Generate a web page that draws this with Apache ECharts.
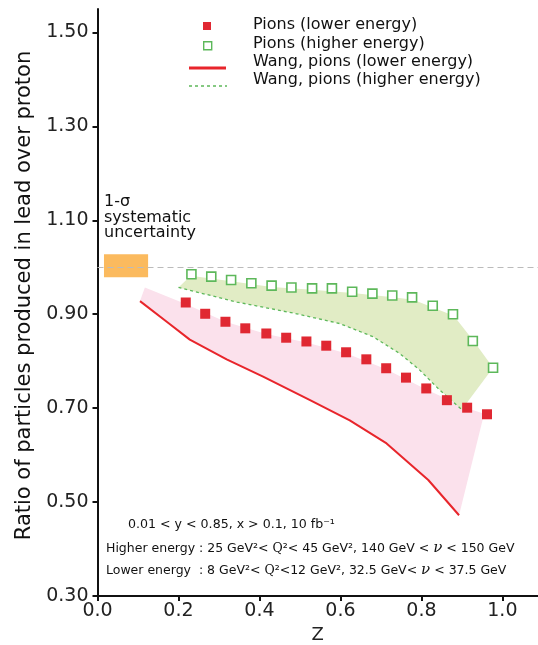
<!DOCTYPE html>
<html>
<head>
<meta charset="utf-8">
<script src="https://cdn.jsdelivr.net/npm/echarts@6/dist/echarts.min.js"></script>
<style>
html,body{margin:0;padding:0;background:#fff;}
#chart{width:538px;height:645px;}
</style>
</head>
<body>
<div id="chart"></div>
<script>
// pions, lower energy (filled red squares)
var zLow = [0.218,0.266,0.316,0.365,0.417,0.466,0.516,0.565,0.614,0.664,0.713,0.762,0.812,0.863,0.913,0.962];
var pionLow = [0.925,0.901,0.884,0.870,0.859,0.850,0.842,0.833,0.819,0.804,0.785,0.765,0.742,0.717,0.701,0.687];
// pions, higher energy (open green squares)
var zHigh = [0.232,0.281,0.330,0.380,0.430,0.479,0.530,0.579,0.629,0.679,0.728,0.777,0.828,0.878,0.927,0.977];
var pionHigh = [0.985,0.980,0.973,0.966,0.961,0.957,0.955,0.955,0.948,0.944,0.940,0.936,0.918,0.900,0.843,0.786];
// Wang curves
var wangLowZ = [0.105,0.171,0.228,0.319,0.409,0.525,0.623,0.714,0.817,0.893];
var wangLowR = [0.928,0.884,0.846,0.804,0.767,0.717,0.674,0.625,0.547,0.472];
var wangHighZ = [0.200,0.344,0.492,0.599,0.681,0.747,0.796,0.846,0.900];
var wangHighR = [0.957,0.926,0.901,0.880,0.852,0.816,0.781,0.738,0.697];
// upper edges of the shaded bands
var bandLowZ = [0.117,0.218,0.316,0.417,0.516,0.614,0.713,0.812,0.913,0.955];
var bandLowR = [0.957,0.922,0.884,0.858,0.840,0.817,0.783,0.740,0.700,0.688];
var bandHighZ = [0.200,0.230,0.330,0.430,0.530,0.630,0.730,0.780,0.830,0.880,0.930,0.977];
var bandHighR = [0.957,0.982,0.970,0.958,0.952,0.945,0.936,0.931,0.914,0.897,0.842,0.786];
// 1-sigma systematic box
var sysZ = [0.016,0.125];
var sysR = [0.979,1.028];
var yTicks = [0.30,0.50,0.70,0.90,1.10,1.30,1.50];
var xTicks = [0.0,0.2,0.4,0.6,0.8,1.0];

var FONT = '"DejaVu Sans", "Liberation Sans", sans-serif';
var SERIF = '"DejaVu Serif", "Liberation Serif", serif';

function pairs(xs, ys) {
	var out = [];
	for (var i = 0; i < xs.length; i++) out.push([xs[i], ys[i]]);
	return out;
}
// polygon: upper edge then the Wang curve backwards
function band(uz, ur, lz, lr) {
	return pairs(uz, ur).concat(pairs(lz, lr).reverse());
}
function makeBand(points, color) {
	return {
		type: 'custom',
		coordinateSystem: 'cartesian2d',
		silent: true,
		z: 1,
		data: [0],
		renderItem: function (params, api) {
			var pts = points.map(function (p) { return api.coord(p); });
			return {type: 'polygon', shape: {points: pts}, style: {fill: color}};
		}
	};
}

var myChart = echarts.init(document.getElementById('chart'));
var richKin = {
	q: {fontFamily: SERIF, fontSize: 12.5},
	nu: {fontFamily: SERIF, fontStyle: 'italic', fontSize: 15}
};
var option = {
	backgroundColor: '#fff',
	animation: false,
	grid: {left: 97.5, top: 9, right: 0, bottom: 49, containLabel: false, outerBoundsMode: 'none'},
	xAxis: {
		type: 'value', min: 0, max: 1.088, interval: 0.2,
		name: 'Z', nameLocation: 'middle', nameGap: 30,
		nameTextStyle: {fontFamily: FONT, fontSize: 18, color: '#222'},
		axisLine: {lineStyle: {color: '#111', width: 2}},
		axisTick: {show: true, length: 5, lineStyle: {color: '#111', width: 2}, customValues: xTicks},
		axisLabel: {fontFamily: FONT, fontSize: 19, color: '#222', margin: 6, customValues: xTicks,
			formatter: function (v) { return v.toFixed(1); }},
		splitLine: {show: false}
	},
	yAxis: {
		type: 'value', min: 0.30, max: 1.55, interval: 0.2,
		name: 'Ratio of particles produced in lead over proton', nameLocation: 'middle', nameGap: 61,
		nameTextStyle: {fontFamily: FONT, fontSize: 21, color: '#111', padding: [0, 0, 0, 14]},
		axisLine: {lineStyle: {color: '#111', width: 2}},
		axisTick: {show: true, length: 5, lineStyle: {color: '#111', width: 2}, customValues: yTicks},
		axisLabel: {fontFamily: FONT, fontSize: 19, color: '#222', margin: 9, customValues: yTicks,
			formatter: function (v) { return v.toFixed(2); }},
		splitLine: {show: false}
	},
	series: [
		makeBand(band(bandLowZ, bandLowR, wangLowZ, wangLowR), '#fbe1ec'),
		makeBand(band(bandHighZ, bandHighR, wangHighZ, wangHighR), '#e1ecc5'),
		{
			type: 'line', name: 'sys', data: [], silent: true, z: 2,
			markLine: {
				silent: true, symbol: 'none', label: {show: false},
				lineStyle: {color: '#bbb', type: [6, 4], width: 1},
				data: [{yAxis: 1.0}]
			},
			markArea: {
				silent: true,
				itemStyle: {color: '#fbba5e', opacity: 1},
				data: [[{coord: [sysZ[0], sysR[1]]}, {coord: [sysZ[1], sysR[0]]}]]
			}
		},
		{
			type: 'line', name: 'Wang, pions (lower energy)', data: pairs(wangLowZ, wangLowR),
			symbol: 'none', z: 3, lineStyle: {color: '#e8252b', width: 2}
		},
		{
			type: 'line', name: 'Wang, pions (higher energy)', data: pairs(wangHighZ, wangHighR),
			symbol: 'none', z: 3, lineStyle: {color: '#5db85a', width: 1.3, type: [3, 3]}
		},
		{
			type: 'scatter', name: 'Pions (lower energy)', data: pairs(zLow, pionLow),
			symbol: 'rect', symbolSize: 10, z: 4, itemStyle: {color: '#e02832', opacity: 1}
		},
		{
			type: 'scatter', name: 'Pions (higher energy)', data: pairs(zHigh, pionHigh),
			symbol: 'rect', symbolSize: 9, z: 4,
			itemStyle: {color: '#fff', borderColor: '#5db85a', borderWidth: 1.6, opacity: 1}
		}
	],
	graphic: [
		// legend
		{type: 'rect', left: 203, top: 22, shape: {width: 8, height: 8}, style: {fill: '#e02832'}},
		{type: 'rect', left: 203, top: 41, shape: {width: 8, height: 8}, style: {fill: '#fff', stroke: '#5db85a', lineWidth: 1.4}},
		{type: 'line', shape: {x1: 189, y1: 68, x2: 226, y2: 68}, style: {stroke: '#e8252b', lineWidth: 3}},
		{type: 'line', shape: {x1: 189, y1: 86, x2: 227, y2: 86}, style: {stroke: '#5db85a', lineWidth: 1.5, lineDash: [3, 3]}},
		{type: 'text', left: 253, top: 17, style: {text: 'Pions (lower energy)', font: '16px ' + FONT, fill: '#111'}},
		{type: 'text', left: 253, top: 36, style: {text: 'Pions (higher energy)', font: '16px ' + FONT, fill: '#111'}},
		{type: 'text', left: 253, top: 54, style: {text: 'Wang, pions (lower energy)', font: '16px ' + FONT, fill: '#111'}},
		{type: 'text', left: 253, top: 72, style: {text: 'Wang, pions (higher energy)', font: '16px ' + FONT, fill: '#111'}},
		// systematic label
		{type: 'text', left: 104, top: 194, style: {text: '1-σ\nsystematic\nuncertainty', font: '16px ' + FONT, fill: '#111', lineHeight: 15.5}},
		// kinematics
		{type: 'text', left: 128, top: 518, style: {text: '0.01 < y < 0.85, x > 0.1, 10 fb⁻¹', font: '12.6px ' + FONT, fill: '#111'}},
		{type: 'text', left: 106, top: 541, style: {
			text: 'Higher energy : 25 GeV²< {q|Q}²< 45 GeV², 140 GeV < {nu|ν} < 150 GeV',
			font: '12.5px ' + FONT, fill: '#111', rich: richKin
		}},
		{type: 'text', left: 106, top: 563, style: {
			text: 'Lower energy  : 8 GeV²< {q|Q}²<12 GeV², 32.5 GeV< {nu|ν} < 37.5 GeV',
			font: '12.5px ' + FONT, fill: '#111', rich: richKin
		}}
	]
};
myChart.setOption(option);
</script>
</body>
</html>
